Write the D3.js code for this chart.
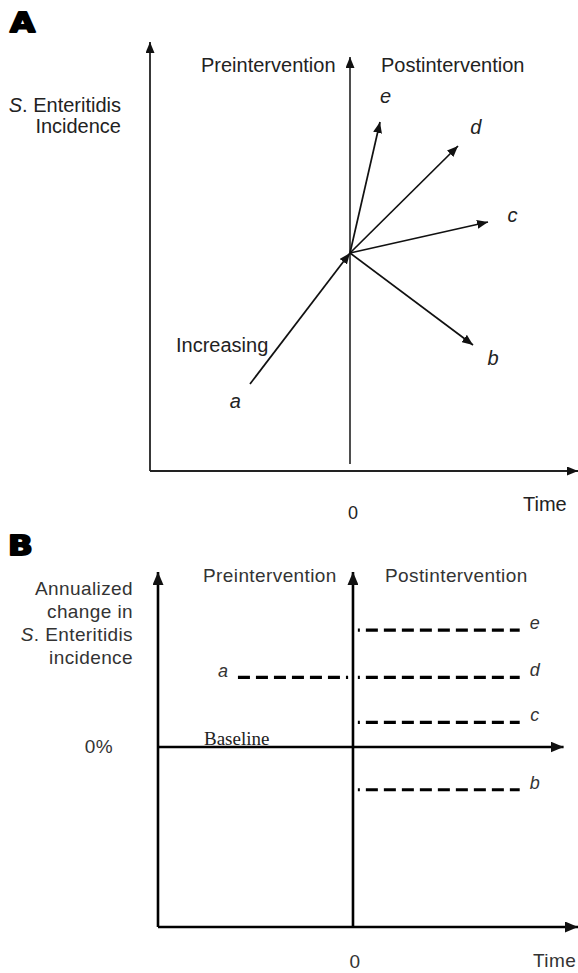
<!DOCTYPE html>
<html>
<head>
<meta charset="utf-8">
<script src="https://cdn.jsdelivr.net/npm/d3@7"></script>
<style>
  body { margin: 0; background: #fff; }
</style>
</head>
<body>
<div id="chart"></div>
<script>
// Painel A: setas de incidência (unidades arbitrárias: tempo, incidência)
const pivotA = { t: 0, v: 10.9 };
const preA = { nome: "a", t: -5, v: 4.35 };
const posNomes = ["e", "d", "c", "b"];
const posTempo = [1.5, 5.4, 6.9, 6.15];
const posIncid = [17.45, 16.25, 12.45, 6.3];

// Painel B: variação anual (unidades arbitrárias)
const nivelPre = { nome: "a", valor: 3.1, t0: -5.9, t1: -0.25 };
const nivelNomes = ["e", "d", "c", "b"];
const nivelValores = [5.2, 3.1, 1.1, -1.9];
const nivelTempo = [0.25, 8.55];

const W = 578, H = 973;
const SANS = "'Liberation Sans', Arial, sans-serif";
const svg = d3.select("#chart").append("svg")
    .attr("width", W).attr("height", H)
    .style("font-family", SANS);

const defs = svg.append("defs");
function marcador(id, len, wid) {
  defs.append("marker")
      .attr("id", id)
      .attr("viewBox", `0 0 ${len} ${wid}`)
      .attr("refX", len).attr("refY", wid / 2)
      .attr("markerWidth", len).attr("markerHeight", wid)
      .attr("markerUnits", "userSpaceOnUse")
      .attr("orient", "auto")
    .append("path")
      .attr("d", `M0,0L${len},${wid / 2}L0,${wid}Z`)
      .attr("fill", "#111");
}
marcador("setaA", 11, 9);
marcador("setaB", 13, 11);

const line = d3.line().x(d => d[0]).y(d => d[1]);

// letra do painel, mais larga e pesada
function letraPainel(g, x, y, txt) {
  g.append("text")
      .attr("transform", `translate(${x},${y}) scale(1.25,1)`)
      .style("font-family", "'DejaVu Sans', sans-serif").style("font-weight", "bold")
      .attr("font-size", 26).attr("stroke", "#000").attr("stroke-width", 1.8)
      .attr("stroke-linejoin", "round")
      .attr("fill", "#000").text(txt);
}

// ---------- Painel A ----------
const xA = d3.scaleLinear().domain([-10, 11.4]).range([150, 578]);
const yA = d3.scaleLinear().domain([0, 21.45]).range([471, 42]);
const gA = svg.append("g");

letraPainel(gA, 10, 32, "A");

// eixos
gA.append("path")
    .attr("d", line([[xA(-10), yA(0)], [xA(-10), yA(21.45)]]))
    .attr("stroke", "#222").attr("stroke-width", 1.8).attr("marker-end", "url(#setaA)");
gA.append("path")
    .attr("d", line([[xA(-10), yA(0)], [xA(11.4), yA(0)]]))
    .attr("stroke", "#222").attr("stroke-width", 1.8).attr("marker-end", "url(#setaA)");
gA.append("path")
    .attr("d", line([[xA(0), yA(0.35)], [xA(0), yA(20.7)]]))
    .attr("stroke", "#222").attr("stroke-width", 1.6).attr("marker-end", "url(#setaA)");

// seta pré-intervenção
gA.append("path")
    .attr("d", line([[xA(preA.t), yA(preA.v)], [xA(pivotA.t), yA(pivotA.v)]]))
    .attr("stroke", "#111").attr("stroke-width", 1.7).attr("marker-end", "url(#setaA)");

// setas pós-intervenção
const posDados = posNomes.map((n, i) => ({ nome: n, t: posTempo[i], v: posIncid[i] }));
gA.selectAll(".pos").data(posDados).enter().append("path")
    .attr("class", "pos")
    .attr("d", d => line([[xA(pivotA.t), yA(pivotA.v)], [xA(d.t), yA(d.v)]]))
    .attr("stroke", "#111").attr("stroke-width", 1.7).attr("fill", "none")
    .attr("marker-end", "url(#setaA)");

// rótulos das setas, prolongando a direção
function rotuloPos(x0, y0, x1, y1, dist) {
  const dx = x1 - x0, dy = y1 - y0, L = Math.hypot(dx, dy);
  return [x1 + dx / L * dist, y1 + dy / L * dist];
}
gA.selectAll(".rotPos").data(posDados).enter().append("text")
    .attr("font-style", "italic").attr("font-size", 20).attr("fill", "#222")
    .attr("text-anchor", "middle").attr("dominant-baseline", "middle")
    .each(function(d) {
      const p = rotuloPos(xA(pivotA.t), yA(pivotA.v), xA(d.t), yA(d.v), 25);
      d3.select(this).attr("x", p[0]).attr("y", p[1]);
    })
    .text(d => d.nome);
{
  const p = rotuloPos(xA(pivotA.t), yA(pivotA.v), xA(preA.t), yA(preA.v), 24);
  gA.append("text").attr("x", p[0]).attr("y", p[1])
      .attr("font-style", "italic").attr("font-size", 20).attr("fill", "#222")
      .attr("text-anchor", "middle").attr("dominant-baseline", "middle")
      .text(preA.nome);
}

gA.append("text").attr("x", 176).attr("y", 352).attr("font-size", 20)
    .attr("fill", "#222").text("Increasing");

const tituloA = gA.append("text").attr("x", 121).attr("y", 112)
    .attr("text-anchor", "end").attr("font-size", 20).attr("fill", "#222");
tituloA.append("tspan").attr("font-style", "italic").text("S");
tituloA.append("tspan").text(". Enteritidis");
gA.append("text").attr("x", 121).attr("y", 133).attr("text-anchor", "end")
    .attr("font-size", 20).attr("fill", "#222").text("Incidence");

gA.append("text").attr("x", 201).attr("y", 72).attr("font-size", 20)
    .attr("fill", "#222").text("Preintervention");
gA.append("text").attr("x", 381).attr("y", 72).attr("font-size", 20)
    .attr("fill", "#222").text("Postintervention");

gA.append("text").attr("x", xA(0) + 3).attr("y", 519).attr("text-anchor", "middle")
    .attr("font-size", 18).attr("fill", "#222").text("0");
gA.append("text").attr("x", 523).attr("y", 511).attr("font-size", 20)
    .attr("fill", "#222").text("Time");

// ---------- Painel B ----------
const xB = d3.scaleLinear().domain([-10, 11.54]).range([158, 578]);
const yB = d3.scaleLinear().domain([-8, 7.78]).range([927, 572]);
const gB = svg.append("g");

letraPainel(gB, 8, 555, "B");

gB.append("path")
    .attr("d", line([[xB(-10), yB(-8)], [xB(-10), yB(7.78)]]))
    .attr("stroke", "#000").attr("stroke-width", 2.6).attr("marker-end", "url(#setaB)");
gB.append("path")
    .attr("d", line([[xB(-10), yB(-8)], [xB(11.54), yB(-8)]]))
    .attr("stroke", "#000").attr("stroke-width", 2.6).attr("marker-end", "url(#setaB)");
gB.append("path")
    .attr("d", line([[xB(0), yB(-8)], [xB(0), yB(7.78)]]))
    .attr("stroke", "#000").attr("stroke-width", 2.6).attr("marker-end", "url(#setaB)");
gB.append("path")
    .attr("d", line([[xB(-10), yB(0)], [xB(10.8), yB(0)]]))
    .attr("stroke", "#000").attr("stroke-width", 2.6).attr("marker-end", "url(#setaB)");

// nível pré-intervenção (a)
gB.append("path")
    .attr("d", line([[xB(nivelPre.t0), yB(nivelPre.valor)], [xB(nivelPre.t1), yB(nivelPre.valor)]]))
    .attr("stroke", "#000").attr("stroke-width", 3.2).attr("stroke-dasharray", "12,6");
gB.append("text").attr("x", xB(nivelPre.t0) - 15).attr("y", yB(nivelPre.valor) - 5)
    .attr("font-style", "italic").attr("font-size", 18).attr("fill", "#333")
    .attr("text-anchor", "middle").attr("dominant-baseline", "middle")
    .text(nivelPre.nome);

// níveis pós-intervenção
const nivelDados = nivelNomes.map((n, i) => ({ nome: n, valor: nivelValores[i] }));
gB.selectAll(".nivel").data(nivelDados).enter().append("path")
    .attr("d", d => line([[xB(nivelTempo[0]), yB(d.valor)], [xB(nivelTempo[1]), yB(d.valor)]]))
    .attr("stroke", "#000").attr("stroke-width", 3.2)
    .attr("stroke-dasharray", "12,6").attr("stroke-dashoffset", 10);
gB.selectAll(".rotNivel").data(nivelDados).enter().append("text")
    .attr("x", xB(nivelTempo[1]) + 15).attr("y", d => yB(d.valor) - 6)
    .attr("font-style", "italic").attr("font-size", 18).attr("fill", "#333")
    .attr("text-anchor", "middle").attr("dominant-baseline", "middle")
    .text(d => d.nome);

gB.append("text").attr("x", 204).attr("y", yB(0) - 2)
    .style("font-family", "'Liberation Serif', 'DejaVu Serif', serif")
    .attr("font-size", 19).attr("fill", "#222").text("Baseline");

const txtB = { "font-size": 19, "fill": "#333", "letter-spacing": 0.4 };
function textoB(x, y, anchor, conteudo) {
  const t = gB.append("text").attr("x", x).attr("y", y).attr("text-anchor", anchor);
  Object.entries(txtB).forEach(([k, v]) => t.attr(k, v));
  if (typeof conteudo === "string") t.text(conteudo);
  else conteudo(t);
  return t;
}
textoB(133, 595, "end", "Annualized");
textoB(133, 618, "end", "change in");
textoB(133, 641, "end", t => {
  t.append("tspan").attr("font-style", "italic").text("S");
  t.append("tspan").text(". Enteritidis");
});
textoB(133, 664, "end", "incidence");
textoB(113, 753, "end", "0%");
textoB(203, 582, "start", "Preintervention");
textoB(385, 582, "start", "Postintervention");
textoB(xB(0) + 2, 968, "middle", "0");
textoB(533, 967, "start", "Time");
</script>
</body>
</html>
